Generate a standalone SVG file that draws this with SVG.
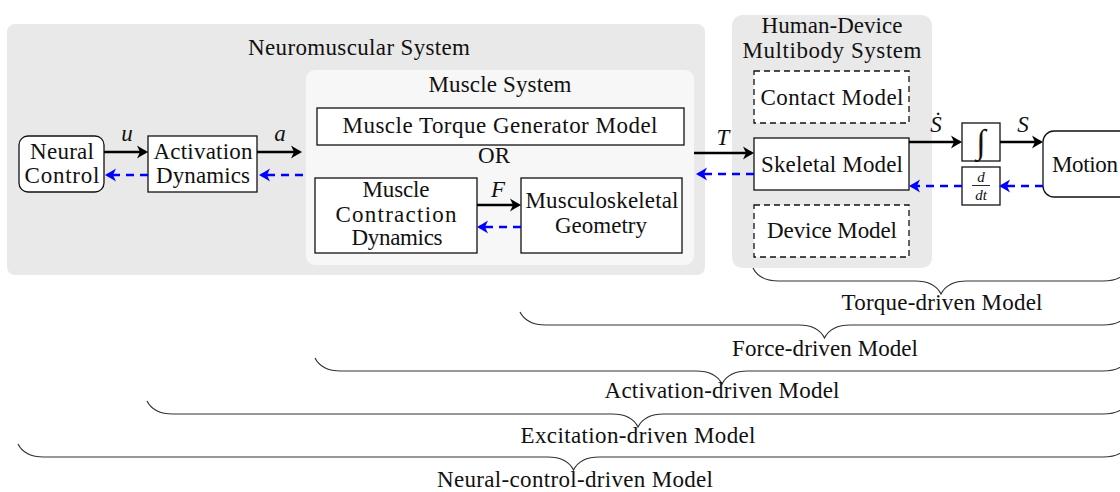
<svg xmlns="http://www.w3.org/2000/svg" width="1120" height="492" viewBox="0 0 1120 492">
  <defs>
    <style>
      text { font-family: "Liberation Serif", "DejaVu Serif", serif; font-size: 23px; fill: #111; text-anchor: middle; }
      .math { font-style: italic; }
      .small { font-size: 15px; }
      .integral { font-size: 34px; }
      .box { fill: #fff; stroke: #111; stroke-width: 1.3; }
      .dbox { fill: #fff; stroke: #111; stroke-width: 1.3; stroke-dasharray: 6 4; }
      .zone { fill: #e9e9e9; }
      .inner { fill: #f7f7f7; }
      .fwd { fill: none; stroke: #000; stroke-width: 2.3; marker-end: url(#headK); }
      .back { fill: none; stroke: #0000ff; stroke-width: 2.3; stroke-dasharray: 8 6; marker-end: url(#headB); }
      .brace { fill: none; stroke: #333; stroke-width: 1.2; }
    </style>
    <marker id="headK" viewBox="-1 -8 14 16" markerWidth="14" markerHeight="16" refX="6" refY="0" orient="auto" markerUnits="userSpaceOnUse">
      <path d="M11,0 C8,-1.8 3.5,-4 0,-6.5 L3,0 L0,6.5 C3.5,4 8,1.8 11,0 Z" fill="#000"/>
    </marker>
    <marker id="headB" viewBox="-1 -8 14 16" markerWidth="14" markerHeight="16" refX="6" refY="0" orient="auto" markerUnits="userSpaceOnUse">
      <path d="M11,0 C8,-1.8 3.5,-4 0,-6.5 L3,0 L0,6.5 C3.5,4 8,1.8 11,0 Z" fill="#0000ff"/>
    </marker>
  </defs>

  <!-- Containers -->
  <g id="neuromuscular-system">
    <rect class="zone" x="7" y="24" width="698" height="251" rx="8"/>
    <text x="359" y="55" textLength="222">Neuromuscular System</text>
  </g>
  <g id="muscle-system">
    <rect class="inner" x="306" y="70" width="388" height="195" rx="9"/>
    <text x="500" y="92" textLength="143">Muscle System</text>
    <text x="494" y="163">OR</text>
  </g>
  <g id="human-device-system">
    <rect class="zone" x="732" y="15" width="200" height="253" rx="10"/>
    <text x="832" y="33" textLength="141">Human-Device</text>
    <text x="832" y="58" textLength="179">Multibody System</text>
  </g>

  <!-- Nodes -->
  <g id="neural-control">
    <rect class="box" x="19" y="136" width="85" height="56" rx="9"/>
    <text x="62" y="159" textLength="64">Neural</text>
    <text x="62" y="183" textLength="75">Control</text>
  </g>
  <g id="activation-dynamics">
    <rect class="box" x="148" y="136" width="109" height="56"/>
    <text x="203" y="159" textLength="99">Activation</text>
    <text x="203" y="183" textLength="94">Dynamics</text>
  </g>
  <g id="torque-generator">
    <rect class="box" x="317" y="108" width="367" height="37"/>
    <text x="500" y="133" textLength="315">Muscle Torque Generator Model</text>
  </g>
  <g id="contraction-dynamics">
    <rect class="box" x="315" y="178" width="162" height="75"/>
    <text x="396" y="197" textLength="67">Muscle</text>
    <text x="396" y="222" textLength="121">Contraction</text>
    <text x="397" y="245" textLength="91">Dynamics</text>
  </g>
  <g id="musculoskeletal-geometry">
    <rect class="box" x="521" y="178" width="161" height="75"/>
    <text x="602" y="208" textLength="153">Musculoskeletal</text>
    <text x="601" y="233" textLength="92">Geometry</text>
  </g>
  <g id="contact-model">
    <rect class="dbox" x="754" y="71" width="155" height="52"/>
    <text x="832" y="105" textLength="143">Contact Model</text>
  </g>
  <g id="skeletal-model">
    <rect class="box" x="754" y="138" width="155" height="52"/>
    <text x="832" y="172" textLength="142">Skeletal Model</text>
  </g>
  <g id="device-model">
    <rect class="dbox" x="754" y="205" width="155" height="52"/>
    <text x="832" y="238" textLength="130">Device Model</text>
  </g>
  <g id="integrator">
    <rect class="box" x="962" y="123" width="38" height="38"/>
    <text class="math integral" x="981" y="153">∫</text>
  </g>
  <g id="differentiator">
    <rect class="box" x="962" y="167" width="38" height="38"/>
    <text class="math small" x="981" y="182">d</text>
    <line x1="972" y1="185.5" x2="990" y2="185.5" stroke="#111" stroke-width="0.9"/>
    <text class="math small" x="981" y="200">dt</text>
  </g>
  <g id="motion">
    <rect class="box" x="1043" y="131" width="90" height="66" rx="11"/>
    <text x="1085" y="172" textLength="66">Motion</text>
  </g>

  <!-- Connectors: black forward signals, blue dashed feedback -->
  <g id="connectors">
    <line class="fwd" x1="104" y1="152" x2="143" y2="152"/>
    <line class="fwd" x1="257" y1="152" x2="297" y2="152"/>
    <line class="fwd" x1="477" y1="205" x2="516" y2="205"/>
    <line class="fwd" x1="694" y1="153" x2="749" y2="153"/>
    <line class="fwd" x1="909" y1="142" x2="957" y2="142"/>
    <line class="fwd" x1="1000" y1="142" x2="1038" y2="142"/>

    <line class="back" x1="148" y1="175" x2="110" y2="175"/>
    <line class="back" x1="303" y1="175" x2="264" y2="175"/>
    <line class="back" x1="521" y1="227" x2="482" y2="227"/>
    <line class="back" x1="754" y1="174" x2="701" y2="174"/>
    <line class="back" x1="962" y1="186" x2="914" y2="186"/>
    <line class="back" x1="1043" y1="186" x2="1004" y2="186"/>

    <text class="math" x="127" y="141">u</text>
    <text class="math" x="280" y="141">a</text>
    <text class="math" x="498" y="197">F</text>
    <text class="math" x="723" y="145">T</text>
    <text class="math" x="936" y="132">Ṡ</text>
    <text class="math" x="1023" y="132">S</text>
  </g>

  <!-- Model-scope braces -->
  <g id="braces">
    <path class="brace" d="M753,268 C756.9,275.8 766,281 779,281 L915,281 C928,281 937.1,286.2 941,294 C944.9,286.2 954,281 967,281 L1103,281 C1116,281 1125.1,275.8 1129,268"/>
    <text x="942" y="310" textLength="201">Torque-driven Model</text>

    <path class="brace" d="M520,312 C523.9,319.8 533,325 546,325 L798.5,325 C811.5,325 820.6,330.2 824.5,338 C828.4,330.2 837.5,325 850.5,325 L1103,325 C1116,325 1125.1,319.8 1129,312"/>
    <text x="825" y="356" textLength="186">Force-driven Model</text>

    <path class="brace" d="M315,358 C318.9,365.8 328,371 341,371 L696,371 C709,371 718.1,376.2 722,384 C725.9,376.2 735,371 748,371 L1103,371 C1116,371 1125.1,365.8 1129,358"/>
    <text x="722" y="398" textLength="235">Activation-driven Model</text>

    <path class="brace" d="M147,401 C150.9,408.8 160,414 173,414 L612,414 C625,414 634.1,419.2 638,427 C641.9,419.2 651,414 664,414 L1103,414 C1116,414 1125.1,408.8 1129,401"/>
    <text x="638" y="443" textLength="235">Excitation-driven Model</text>

    <path class="brace" d="M18,444 C21.9,451.8 31,457 44,457 L547.5,457 C560.5,457 569.6,462.2 573.5,470 C577.4,462.2 586.5,457 599.5,457 L1103,457 C1116,457 1125.1,451.8 1129,444"/>
    <text x="575" y="487" textLength="276">Neural-control-driven Model</text>
  </g>
</svg>
